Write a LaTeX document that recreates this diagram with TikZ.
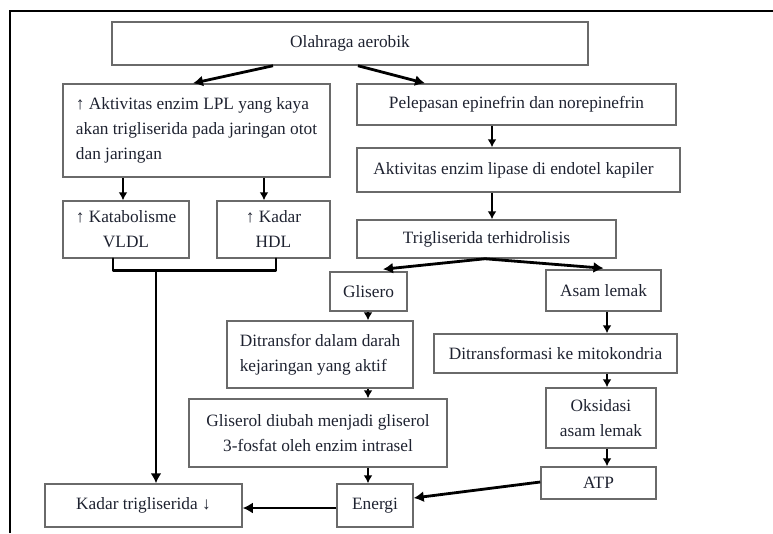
\documentclass[tikz,border=0pt]{standalone}
\usepackage{fontspec}
\setmainfont{Liberation Serif}
\usetikzlibrary{arrows.meta,calc}
\definecolor{boxline}{HTML}{6A6A6A}
\definecolor{txt}{HTML}{1E2230}
\tikzset{
  box/.style={draw=boxline, line width=1.5pt, rectangle, inner sep=2pt, text=txt,
    font=\fontsize{17.3}{25}\selectfont, align=center},
  arr/.style={draw=black, line width=2.8pt, -{Latex[length=10pt,width=11pt]}},
  sarr/.style={draw=black, line width=2.2pt, -{Latex[length=8pt,width=9pt]}},
  plain/.style={draw=black, line width=2.8pt, line join=round, line cap=round}
}
\begin{document}
\begin{tikzpicture}[x=1pt,y=-1pt]
\useasboundingbox (0,0) rectangle (773,533);
\draw[line width=1.6pt] (10,533) -- (10,11) -- (773,11);

\node[box, minimum width=476pt, minimum height=43pt] (olah) at (350,43.5) {Olahraga aerobik};
\node[box, minimum width=267pt, minimum height=93pt, align=left] (lpl) at (196.5,130.5)
  {↑ Aktivitas enzim LPL yang kaya\\akan trigliserida pada jaringan otot\\dan jaringan};
\node[box, minimum width=126pt, minimum height=57pt] (kat) at (126,229.5) {↑ Katabolisme\\VLDL};
\node[box, minimum width=113pt, minimum height=57pt] (hdl) at (273.5,229.5) {↑ Kadar\\HDL};
\node[box, minimum width=319pt, minimum height=41pt] (pel) at (516.5,104.5) {Pelepasan epinefrin dan norepinefrin};
\node[box, minimum width=323pt, minimum height=44pt] (lip) at (518.5,170) {Aktivitas enzim lipase di endotel kapiler\hspace{10pt}};
\node[box, minimum width=259pt, minimum height=38pt] (tri) at (486.5,239) {Trigliserida terhidrolisis};
\node[box, minimum width=77pt, minimum height=39pt] (gli) at (368.5,291.5) {Glisero};
\node[box, minimum width=115pt, minimum height=41pt] (asam) at (603.5,290.5) {Asam lemak};
\node[box, minimum width=186pt, minimum height=67pt, align=left] (dit) at (320,354.5) {Ditransfor dalam darah\\kejaringan yang aktif};
\node[box, minimum width=258pt, minimum height=68pt] (glis) at (318,433) {Gliserol diubah menjadi gliserol\\3-fosfat oleh enzim intrasel};
\node[box, minimum width=243pt, minimum height=39pt] (ditm) at (555.5,353.5) {Ditransformasi ke mitokondria};
\node[box, minimum width=110pt, minimum height=60pt] (oks) at (601,418) {Oksidasi\\asam lemak};
\node[box, minimum width=115pt, minimum height=32pt] (atp) at (598.5,483) {ATP};
\node[box, minimum width=76pt, minimum height=43pt] (ene) at (375,505.5) {Energi};
\node[box, minimum width=197pt, minimum height=43pt] (kad) at (143.5,505.5) {Kadar trigliserida ↓};

% top split
\draw[arr] ([xshift=-77pt]olah.south) -- ([xshift=-3.5pt]lpl.north);
\draw[arr] ([xshift=8pt]olah.south) -- ([xshift=-91.5pt]pel.north);

% left branch
\draw[sarr] ([xshift=-3pt]kat.north |- lpl.south) -- ([xshift=-3pt]kat.north);
\draw[sarr] ([xshift=-9.5pt]hdl.north |- lpl.south) -- ([xshift=-9.5pt]hdl.north);
\coordinate (bl) at ([xshift=-13pt,yshift=-12pt]kat.south);
\coordinate (br) at ([xshift=2.5pt,yshift=-12pt]hdl.south);
\draw[plain] ([xshift=-13pt]kat.south) -- (bl) -- (br) -- ([xshift=2.5pt]hdl.south);
\coordinate (bm) at ([xshift=12.5pt]kad.north |- bl);
\draw[arr] (bm) -- ([xshift=12.5pt]kad.north);

% right chain
\draw[sarr] ([xshift=-24.5pt]pel.south) -- ([xshift=-24.5pt]pel.south |- lip.north);
\draw[sarr] ([xshift=5.5pt]tri.north |- lip.south) -- ([xshift=5.5pt]tri.north);
\draw[arr] ([xshift=-1.5pt]tri.south) -- ([xshift=14.5pt,yshift=2pt]gli.north);
\draw[arr] ([xshift=-1.5pt]tri.south) -- ([yshift=1pt]asam.north);

% glycerol chain
\draw[sarr] (gli.south -| 368,0) -- (dit.north -| 368,0);
\draw[sarr] (dit.south -| 368,0) -- (glis.north -| 368,0);
\draw[sarr] (glis.south -| 368,0) -- (ene.north -| 368,0);

% fatty acid chain
\draw[sarr] (asam.south -| 607,0) -- (ditm.north -| 607,0);
\draw[sarr] (ditm.south -| 607,0) -- (oks.north -| 607,0);
\draw[sarr] (oks.south -| 607,0) -- (atp.north -| 607,0);

% energy
\draw[arr] ([yshift=1pt]atp.west) -- ([yshift=7.5pt]ene.east);
\draw[arr] ([yshift=-2.5pt]ene.west) -- ([yshift=-2.5pt]kad.east);
\end{tikzpicture}
\end{document}
